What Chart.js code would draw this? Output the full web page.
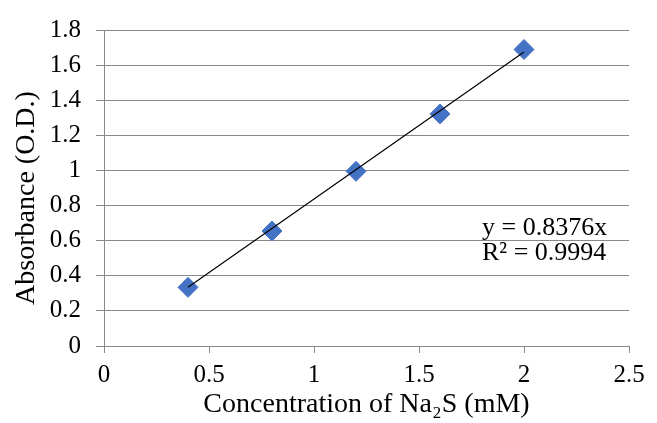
<!DOCTYPE html>
<html>
<head>
<meta charset="utf-8">
<script src="https://cdn.jsdelivr.net/npm/chart.js@4"></script>
<style>
html,body{margin:0;padding:0;background:#fff;}
#wrap{width:657px;height:423px;position:relative;}
</style>
</head>
<body>
<div id="wrap"><canvas id="c" width="657" height="423"></canvas></div>
<script>
const concentration = [0.4, 0.8, 1.2, 1.6, 2.0];
const absorbance = [0.334, 0.655, 0.995, 1.322, 1.689];
const trendX = [0.4, 2.0];
const trendY = [0.335, 1.675];
const equationLines = ['y = 0.8376x', 'R\u00B2 = 0.9994'];
const xTitle = 'Concentration of Na\u2082S (mM)';
const yTitle = 'Absorbance (O.D.)';

const FONT = '"Liberation Serif", "Times New Roman", serif';

const textPlugin = {
  id: 'texts',
  afterDatasetsDraw(chart) {
    const {ctx, chartArea, scales: {x, y}} = chart;
    ctx.save();
    ctx.font = '26px ' + FONT;
    ctx.fillStyle = '#000';
    ctx.textAlign = 'left';
    ctx.textBaseline = 'alphabetic';
    const px = x.getPixelForValue(1.8);
    const py = y.getPixelForValue(0.631);
    equationLines.forEach((t, i) => ctx.fillText(t, px, py + i * 25));
    ctx.restore();

    // y-axis title
    ctx.save();
    ctx.font = '28px ' + FONT;
    ctx.fillStyle = '#000';
    ctx.textAlign = 'center';
    ctx.textBaseline = 'middle';
    ctx.translate(27, (chartArea.top + chartArea.bottom) / 2 + 10);
    ctx.rotate(-Math.PI / 2);
    ctx.fillText(yTitle, 0, 0);
    ctx.restore();
  }
};

const fmt = v => Number(Number(v).toFixed(1)).toString();

new Chart(document.getElementById('c'), {
  type: 'scatter',
  data: {
    datasets: [
      {
        type: 'line',
        data: trendX.map((v, i) => ({x: v, y: trendY[i]})),
        borderColor: '#000',
        borderWidth: 1.2,
        pointRadius: 0,
        fill: false,
        order: 0
      },
      {
        data: concentration.map((v, i) => ({x: v, y: absorbance[i]})),
        pointStyle: 'rectRot',
        pointRadius: 10,
        backgroundColor: '#4472C4',
        borderColor: '#4472C4',
        borderWidth: 1,
        order: 1
      }
    ]
  },
  options: {
    responsive: false,
    animation: false,
    layout: {padding: {top: 21, right: 28, left: 0, bottom: 0}},
    plugins: {legend: {display: false}, tooltip: {enabled: false}},
    scales: {
      x: {
        type: 'linear',
        min: 0, max: 2.5,
        ticks: {stepSize: 0.5, color: '#000', font: {family: FONT, size: 25}, padding: 7, maxRotation: 0,
          callback: fmt},
        grid: {drawOnChartArea: false, drawTicks: true, tickLength: 7, color: '#888'},
        border: {display: true, color: '#888'},
        title: {display: true, text: xTitle, color: '#000', font: {family: FONT, size: 28}, padding: {top: 0, bottom: 2}},
        afterFit(s) { s.height = 77; }
      },
      y: {
        type: 'linear',
        min: 0, max: 1.8,
        ticks: {stepSize: 0.2, color: '#000', font: {family: FONT, size: 25}, padding: 15,
          callback: fmt},
        grid: {drawOnChartArea: true, drawTicks: true, tickLength: 8, color: '#888'},
        border: {display: true, color: '#888'},
        title: {display: false},
        afterFit(s) { s.width = 104; }
      }
    }
  },
  plugins: [textPlugin]
});
</script>
</body>
</html>
